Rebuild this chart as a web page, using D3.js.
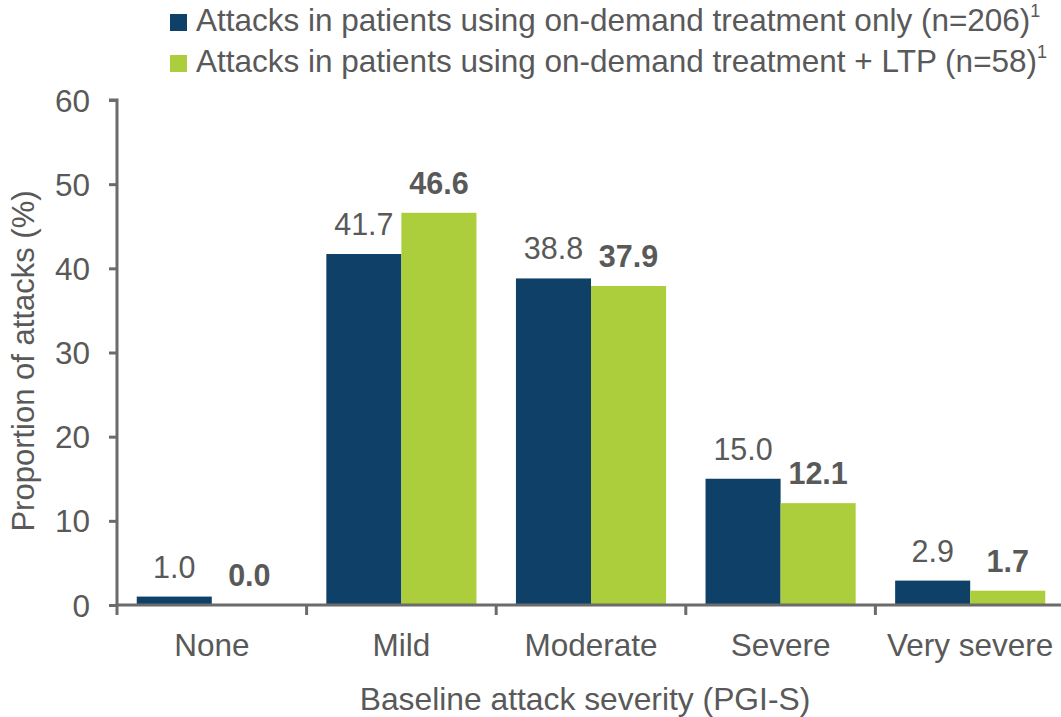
<!DOCTYPE html>
<html>
<head>
<meta charset="utf-8">
<script src="https://cdn.jsdelivr.net/npm/d3@7"></script>
<style>
  html, body { margin: 0; padding: 0; background: #fff; }
  svg { display: block; }
  svg text { font-family: "Liberation Sans", Arial, sans-serif; }
</style>
</head>
<body>
<svg id="chart" width="1061" height="717"></svg>
<script>
const categories = ["None", "Mild", "Moderate", "Severe", "Very severe"];
const onDemandOnly = [1.0, 41.7, 38.8, 15.0, 2.9];
const onDemandLTP = [0.0, 46.6, 37.9, 12.1, 1.7];
const seriesNames = [
  "Attacks in patients using on-demand treatment only (n=206)",
  "Attacks in patients using on-demand treatment + LTP (n=58)"
];
const yTicks = [0, 10, 20, 30, 40, 50, 60];
const xTitle = "Baseline attack severity (PGI-S)";
const yTitle = "Proportion of attacks (%)";

const colors = ["#0f4068", "#adce3c"];
const textColor = "#595959";
const axisColor = "#6b6b6b";
const FONT = "'Liberation Sans', Arial, sans-serif";

const svg = d3.select("#chart");
const x0 = 117, x1 = 1065, yTop = 100, yBot = 605;

const x = d3.scaleBand().domain(categories).range([x0, x1]).paddingInner(0).paddingOuter(0);
const xs = d3.scaleBand().domain([0, 1]).range([0, x.bandwidth()]).paddingInner(0).paddingOuter(0.263);
const y = d3.scaleLinear().domain([0, 60]).range([yBot, yTop]);

const data = categories.map((c, i) => ({ c, vals: [onDemandOnly[i], onDemandLTP[i]] }));

// bars
const g = svg.append("g");
data.forEach(d => {
  d.vals.forEach((v, s) => {
    g.append("rect")
      .attr("x", x(d.c) + xs(s))
      .attr("width", xs.bandwidth())
      .attr("y", y(v))
      .attr("height", yBot - y(v))
      .attr("fill", colors[s]);
    g.append("text")
      .attr("x", x(d.c) + xs(s) + xs.bandwidth() / 2)
      .attr("y", y(v) - 19)
      .attr("text-anchor", "middle")
      .attr("font-family", FONT)
      .attr("font-size", 30.5)
      .attr("font-weight", s === 1 ? "bold" : "normal")
      .attr("fill", textColor)
      .text(v.toFixed(1));
  });
});

// y axis
const yAxis = d3.axisLeft(y).tickValues(yTicks).tickSize(8).tickPadding(19);
const gy = svg.append("g").attr("transform", `translate(${x0},0)`).call(yAxis);
gy.attr("font-family", FONT);
gy.select(".domain").attr("stroke", axisColor).attr("stroke-width", 3)
  .attr("d", `M-8,${yTop}H0V${yBot + 1.5}`);
gy.selectAll(".tick line").attr("stroke", axisColor).attr("stroke-width", 3);
gy.selectAll(".tick text").attr("fill", textColor).attr("font-size", 31.5)
  .attr("font-family", FONT).attr("dy", "0.35em");

// x axis
const xAxis = d3.axisBottom(x).tickSize(0).tickPadding(29);
const gx = svg.append("g").attr("transform", `translate(0,${yBot})`).call(xAxis);
gx.attr("font-family", FONT);
gx.select(".domain").attr("stroke", axisColor).attr("stroke-width", 3)
  .attr("d", `M${x0 - 1.5},0H${x1}`);
gx.selectAll(".tick text").attr("fill", textColor).attr("font-size", 31.5)
  .attr("font-family", FONT);
// boundary ticks
const bounds = categories.map(c => x(c));
gx.selectAll(".btick").data(bounds).enter().append("line")
  .attr("x1", d => d).attr("x2", d => d).attr("y1", 0).attr("y2", 10)
  .attr("stroke", axisColor).attr("stroke-width", 3);

// axis titles
svg.append("text").attr("x", 585).attr("y", 710)
  .attr("text-anchor", "middle").attr("font-family", FONT).attr("font-size", 31.8).attr("fill", textColor).text(xTitle);
svg.append("text").attr("transform", `translate(34,361) rotate(-90)`)
  .attr("text-anchor", "middle").attr("font-family", FONT).attr("font-size", 31).attr("fill", textColor).text(yTitle);

// legend
const lg = svg.append("g");
seriesNames.forEach((name, i) => {
  const base = 31 + i * 41;
  lg.append("rect").attr("x", 170).attr("y", base - 17).attr("width", 17).attr("height", 17).attr("fill", colors[i]);
  const t = lg.append("text").attr("x", 196).attr("y", base).attr("font-family", FONT).attr("font-size", 31.5).attr("fill", textColor);
  t.append("tspan").text(name);
  t.append("tspan").attr("font-size", 18).attr("dy", -14).text("1");
});
</script>
</body>
</html>
